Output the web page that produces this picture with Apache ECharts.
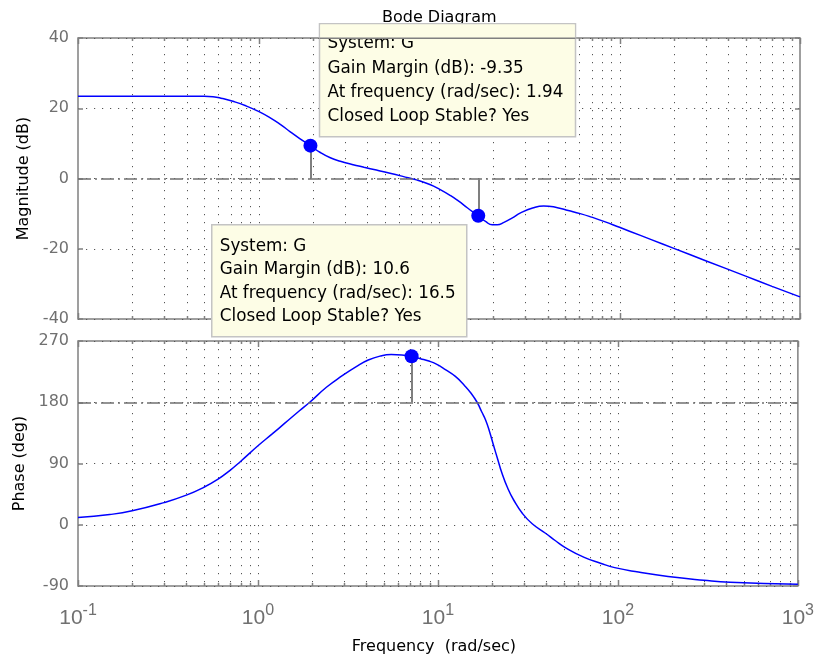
<!DOCTYPE html>
<html><head><meta charset="utf-8">
<script src="https://cdn.jsdelivr.net/npm/echarts@6/dist/echarts.min.js"></script>
<style>html,body{margin:0;padding:0;background:#fff}#c{width:817px;height:658px}</style>
</head><body><div id="c"></div>
<script>
// ---- data ----
const magFreq = [0.1, 0.3, 0.5, 0.56, 0.63, 0.73, 0.85, 1.0, 1.15, 1.32, 1.5, 1.7, 1.94, 2.2, 2.5, 2.84, 3.3, 3.84, 4.5, 5.35, 6.3, 7.5, 8.9, 10.1, 11.6, 12.8, 14.4, 16.5, 18.2, 19.7, 21, 22.9, 25.5, 28.3, 33, 38, 45.3, 52, 60.6, 70, 81.9, 100, 113.6, 150, 200, 300, 500, 700, 1000];
const magDb   = [23.4, 23.4, 23.4, 23.3, 22.8, 21.9, 20.7, 19.1, 17.4, 15.4, 13.3, 11.3, 9.35, 7.4, 5.9, 4.9, 4.0, 3.2, 2.4, 1.5, 0.6, -0.4, -1.7, -3.1, -4.9, -6.4, -8.4, -10.6, -12.3, -13.2, -13.2, -12.5, -11.2, -9.8, -8.4, -7.8, -8.3, -9.1, -10.0, -11.0, -12.2, -13.9, -15.0, -17.4, -19.9, -23.4, -27.8, -30.7, -33.7];
const phaseFreq = [0.1, 0.15, 0.2, 0.3, 0.4, 0.5, 0.6, 0.7, 0.8, 1.0, 1.2, 1.4, 1.7, 1.94, 2.4, 2.94, 3.5, 4.1, 4.8, 5.5, 6.3, 7.14, 8.0, 8.9, 9.8, 11, 12.5, 14, 15.2, 16.5, 17.5, 18.4, 19.4, 20.4, 21.5, 22.6, 24.3, 26.4, 29.5, 33.4, 39.6, 45, 51, 65, 80, 96, 130, 190, 300, 420, 1000];
const phaseDeg  = [10.5, 15, 20.5, 32.5, 43.5, 55, 67, 80, 93, 116, 133.5, 148.5, 167.5, 180, 202, 219, 232, 242, 248, 250, 249.5, 247.5, 244, 240.5, 236, 228, 218, 205, 194, 180, 166, 154, 136, 116, 96, 77, 55, 36, 16.5, 1.5, -12.5, -23.5, -33.5, -48, -56.5, -63, -69.5, -76, -81.5, -84.5, -87.5];
const xTicks = [0.1, 1, 10, 100, 1000];
const magMin = -40, magMax = 40, magStep = 20;
const phMin = -90, phMax = 270, phStep = 90;
const gmFreq = [1.94, 16.5];
const gmMag  = [9.35, -10.6];
const pmFreq = [7.14];
const pmPhase = [247.5];
const tip1Lines = ['System: G', 'Gain Margin (dB): -9.35', 'At frequency (rad/sec): 1.94', 'Closed Loop Stable? Yes'];
const tip2Lines = ['System: G', 'Gain Margin (dB): 10.6', 'At frequency (rad/sec): 16.5', 'Closed Loop Stable? Yes'];

// log grid positions (1..9 x each decade)
const gridFreq = [];
for (let e = -1; e < 3; e++) for (let m = 1; m < 10; m++) gridFreq.push(+(m * Math.pow(10, e)).toPrecision(3));
gridFreq.push(1000);

const FONT = 'DejaVu Sans';
const FRAME = '#808080';
const DOT = '#555555';
const TIPFILL = '#fdfde6';

function gridRender(yMin, yMax) {
  return function (params, api) {
    const f = api.value(0);
    const top = api.coord([f, yMax]);
    const bot = api.coord([f, yMin]);
    const x = Math.round(top[0]) + 0.5;
    const lg = Math.log10(f);
    const isMajor = Math.abs(lg - Math.round(lg)) < 1e-6;
    const len = isMajor ? 6 : 3;
    const children = [];
    if (f > 0.1001 && f < 999) {
      children.push({type: 'line', shape: {x1: x, y1: top[1], x2: x, y2: bot[1]},
        style: {stroke: DOT, lineWidth: 1, lineDash: [1.2, 6.8]}, silent: true});
    }
    children.push({type: 'line', shape: {x1: x, y1: bot[1], x2: x, y2: bot[1] - len}, style: {stroke: FRAME, lineWidth: 1.5}});
    children.push({type: 'line', shape: {x1: x, y1: top[1], x2: x, y2: top[1] + len}, style: {stroke: FRAME, lineWidth: 1.5}});
    return {type: 'group', children};
  };
}

function yAxes(gi, min, max, step, name, gap) {
  const split = {show: true, lineStyle: {color: DOT, width: 1, type: [1.2, 6.8]}};
  return [
    {type: 'value', gridIndex: gi, min, max, interval: step, name, nameLocation: 'middle', nameRotate: 90, nameGap: gap,
     nameTextStyle: {fontFamily: FONT, fontSize: 16, color: '#000'},
     axisLine: {show: false}, axisTick: {show: true, inside: true, length: 5, lineStyle: {color: FRAME, width: 1.5}},
     axisLabel: {fontFamily: FONT, fontSize: 16, color: '#707070', margin: 9}, splitLine: split},
    {type: 'value', gridIndex: gi, position: 'right', min, max, interval: step,
     axisLine: {show: false}, axisTick: {show: true, inside: true, length: 5, lineStyle: {color: FRAME, width: 1.5}},
     axisLabel: {show: false}, splitLine: {show: false}}
  ];
}

const refLine = (v) => ({silent: true, symbol: 'none', label: {show: false},
  lineStyle: {color: '#707070', width: 1.5, type: [13, 4, 2, 4]}, data: [{yAxis: v}]});

const stemStyle = {color: '#7f7f7f', width: 2, type: 'solid'};

function tipBox(left, top, w, h, lines, textY, lh, clipTop) {
  const kids = [
    {type: 'rect', zlevel: 1, z: 100, shape: {x: 0, y: 0, width: w, height: h}, style: {fill: TIPFILL, stroke: '#c4c4c4', lineWidth: 1.5}},
    {type: 'text', zlevel: 1, z: 101, x: 8, y: textY, style: {text: lines.join('\n'), font: '16.8px "DejaVu Sans"', lineHeight: lh, fill: '#000'}}
  ];
  if (clipTop) {
    kids.push({type: 'rect', zlevel: 1, z: 102, shape: {x: 0.75, y: 0.75, width: w - 1.5, height: clipTop - 0.75}, style: {fill: TIPFILL}});
    kids.push({type: 'line', zlevel: 1, z: 103, shape: {x1: 0, y1: clipTop, x2: w, y2: clipTop}, style: {stroke: FRAME, lineWidth: 1.5}});
  }
  return {type: 'group', left, top, zlevel: 1, z: 100, children: kids};
}

const option = {
  animation: false,
  backgroundColor: '#fff',
  title: {text: 'Bode Diagram', left: 377, top: 5, textStyle: {fontFamily: FONT, fontSize: 16, fontWeight: 'normal', color: '#000'}},
  grid: [
    {left: 78, top: 38, width: 722, height: 281, show: true, borderColor: FRAME, borderWidth: 1.5, backgroundColor: '#fff'},
    {left: 78, top: 341, width: 722, height: 245, show: true, borderColor: FRAME, borderWidth: 1.5, backgroundColor: '#fff'}
  ],
  xAxis: [
    {type: 'log', logBase: 10, gridIndex: 0, min: 0.1, max: 1000, axisLine: {show: false}, axisTick: {show: false}, axisLabel: {show: false}, splitLine: {show: false}},
    {type: 'log', logBase: 10, gridIndex: 1, min: 0.1, max: 1000, axisLine: {show: false}, axisTick: {show: false}, splitLine: {show: false},
     name: 'Frequency  (rad/sec)', nameLocation: 'middle', nameGap: 53,
     nameTextStyle: {fontFamily: FONT, fontSize: 16, color: '#000', padding: [0, 8, 0, 0]},
     axisLabel: {show: true, customValues: xTicks, margin: 22, color: '#707070',
       formatter: (v) => '{b|10}{s|' + Math.round(Math.log10(v)) + '}',
       rich: {
         b: {fontFamily: 'Liberation Sans', fontSize: 21, lineHeight: 21, color: '#707070', verticalAlign: 'bottom'},
         s: {fontFamily: 'Liberation Sans', fontSize: 16, lineHeight: 16, color: '#707070', padding: [0, 0, 10, 0], verticalAlign: 'bottom'}
       }}}
  ],
  yAxis: [].concat(yAxes(0, magMin, magMax, magStep, 'Magnitude (dB)', 45), yAxes(1, phMin, phMax, phStep, 'Phase (deg)', 49)),
  series: [
    {type: 'custom', xAxisIndex: 0, yAxisIndex: 0, renderItem: gridRender(magMin, magMax), data: gridFreq.map(f => [f]), silent: true, z: 1},
    {type: 'custom', xAxisIndex: 1, yAxisIndex: 2, renderItem: gridRender(phMin, phMax), data: gridFreq.map(f => [f]), silent: true, z: 1},
    {type: 'line', xAxisIndex: 0, yAxisIndex: 0, data: magFreq.map((f, i) => [f, magDb[i]]), showSymbol: false, smooth: true,
     lineStyle: {color: '#0000ff', width: 1.5}, itemStyle: {color: '#0000ff'}, z: 3, markLine: refLine(0)},
    {type: 'line', xAxisIndex: 1, yAxisIndex: 2, data: phaseFreq.map((f, i) => [f, phaseDeg[i]]), showSymbol: false, smooth: true,
     lineStyle: {color: '#0000ff', width: 1.5}, itemStyle: {color: '#0000ff'}, z: 3, markLine: refLine(180)},
    {type: 'scatter', xAxisIndex: 0, yAxisIndex: 0, data: gmFreq.map((f, i) => [f, gmMag[i]]), symbolSize: 14,
     itemStyle: {color: '#0000ff', opacity: 1}, z: 5,
     markLine: {silent: true, symbol: 'none', label: {show: false}, lineStyle: stemStyle,
       data: gmFreq.map((f, i) => [{coord: [f, gmMag[i]]}, {coord: [f, 0]}])}},
    {type: 'scatter', xAxisIndex: 1, yAxisIndex: 2, data: pmFreq.map((f, i) => [f, pmPhase[i]]), symbolSize: 14,
     itemStyle: {color: '#0000ff', opacity: 1}, z: 5,
     markLine: {silent: true, symbol: 'none', label: {show: false}, lineStyle: stemStyle,
       data: pmFreq.map((f, i) => [{coord: [f, pmPhase[i]]}, {coord: [f, 180]}])}}
  ],
  graphic: [
    tipBox(317, 23, 256, 113, tip1Lines, 8, 24.3, 14.5),
    tipBox(211, 224, 255, 112, tip2Lines, 10, 23.5, 0)
  ]
};

const chart = echarts.init(document.getElementById('c'), null, {renderer: 'canvas'});
chart.setOption(option);
</script>
</body></html>
